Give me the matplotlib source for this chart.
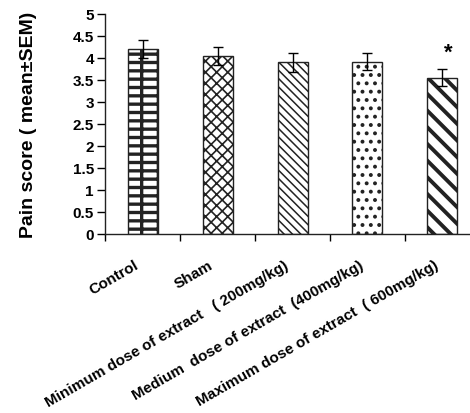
import matplotlib
matplotlib.use("Agg")
import matplotlib.pyplot as plt
import matplotlib.transforms as mtransforms
import numpy as np

# values
groups = [
    "Control",
    "Sham",
    "Minimum dose of extract   ( 200mg/kg)",
    "Medium  dose of extract  (400mg/kg)",
    "Maximum dose of extract  ( 600mg/kg)",
]
means = [4.20, 4.04, 3.90, 3.92, 3.55]
sems = [0.20, 0.20, 0.21, 0.19, 0.19]
significant = [False, False, False, False, True]

# hatch style per bar: (pattern, hatch line width)
hatches = [("--|", 2.4), ("xxx", 1.2), ("\\\\\\\\", 1.1), ("..", 1.6), ("\\\\", 2.8)]

plt.rcParams["font.family"] = ["Liberation Sans", "DejaVu Sans"]
plt.rcParams["font.weight"] = "bold"

fig = plt.figure(figsize=(4.7, 4.14), dpi=100)
ax = fig.add_axes([105 / 470, 1 - 235 / 414, 375 / 470, 220 / 414])

x = np.arange(len(groups))
for i in range(len(groups)):
    with plt.rc_context({"hatch.linewidth": hatches[i][1], "hatch.color": "#222222"}):
        bar = ax.bar(x[i], means[i], width=0.4, color="white", edgecolor="#222222",
                     linewidth=1.0, hatch=hatches[i][0], zorder=2)
    for p in bar.patches:
        if hasattr(p, "set_hatch_linewidth"):
            p.set_hatch_linewidth(hatches[i][1])

ax.errorbar(x, means, yerr=sems, fmt="none", ecolor="black", elinewidth=1.0,
            capsize=3.6, capthick=1.0, zorder=3)

for i, sig in enumerate(significant):
    if sig:
        ax.annotate("*", (x[i], means[i] + sems[i]), xytext=(4, 5),
                    textcoords="offset points", ha="center", va="bottom",
                    fontsize=16, fontweight="bold")

ax.set_xlim(-0.5, len(groups) - 0.5)
ax.set_ylim(0, 5)
ax.set_yticks(np.arange(0, 5.01, 0.5))
ax.set_yticklabels(["0", "0.5", "1", "1.5", "2", "2.5", "3", "3.5", "4", "4.5", "5"])

# tick marks sit between categories, labels under the bars
ax.set_xticks(np.arange(-0.5, len(groups), 1.0))
ax.set_xticklabels([])
ax.set_xticks(x, minor=True)
ax.set_xticklabels(groups, minor=True, rotation=30, ha="right",
                   rotation_mode="anchor", fontsize=11, fontweight="bold")
ax.tick_params(axis="x", which="minor", length=0, pad=17)
ax.tick_params(axis="x", which="major", length=5, width=1, direction="out")
ax.tick_params(axis="y", length=6, width=1, direction="out", labelsize=11, pad=2)

# nudge the slanted labels a little to the left, like the original
shift = mtransforms.ScaledTranslation(-9 / 100, 0, fig.dpi_scale_trans)
for lbl in ax.get_xticklabels(minor=True):
    lbl.set_transform(lbl.get_transform() + shift)

ax.set_ylabel("Pain score ( mean\u00b1SEM)", fontsize=14, fontweight="bold")
ax.yaxis.set_label_coords((37 - 105) / 375, 0.5)

ax.spines["top"].set_visible(False)
ax.spines["right"].set_visible(False)
for s in ["left", "bottom"]:
    ax.spines[s].set_linewidth(1.0)
    ax.spines[s].set_color("#222222")

fig.savefig("out.png", dpi=100, facecolor="white")
